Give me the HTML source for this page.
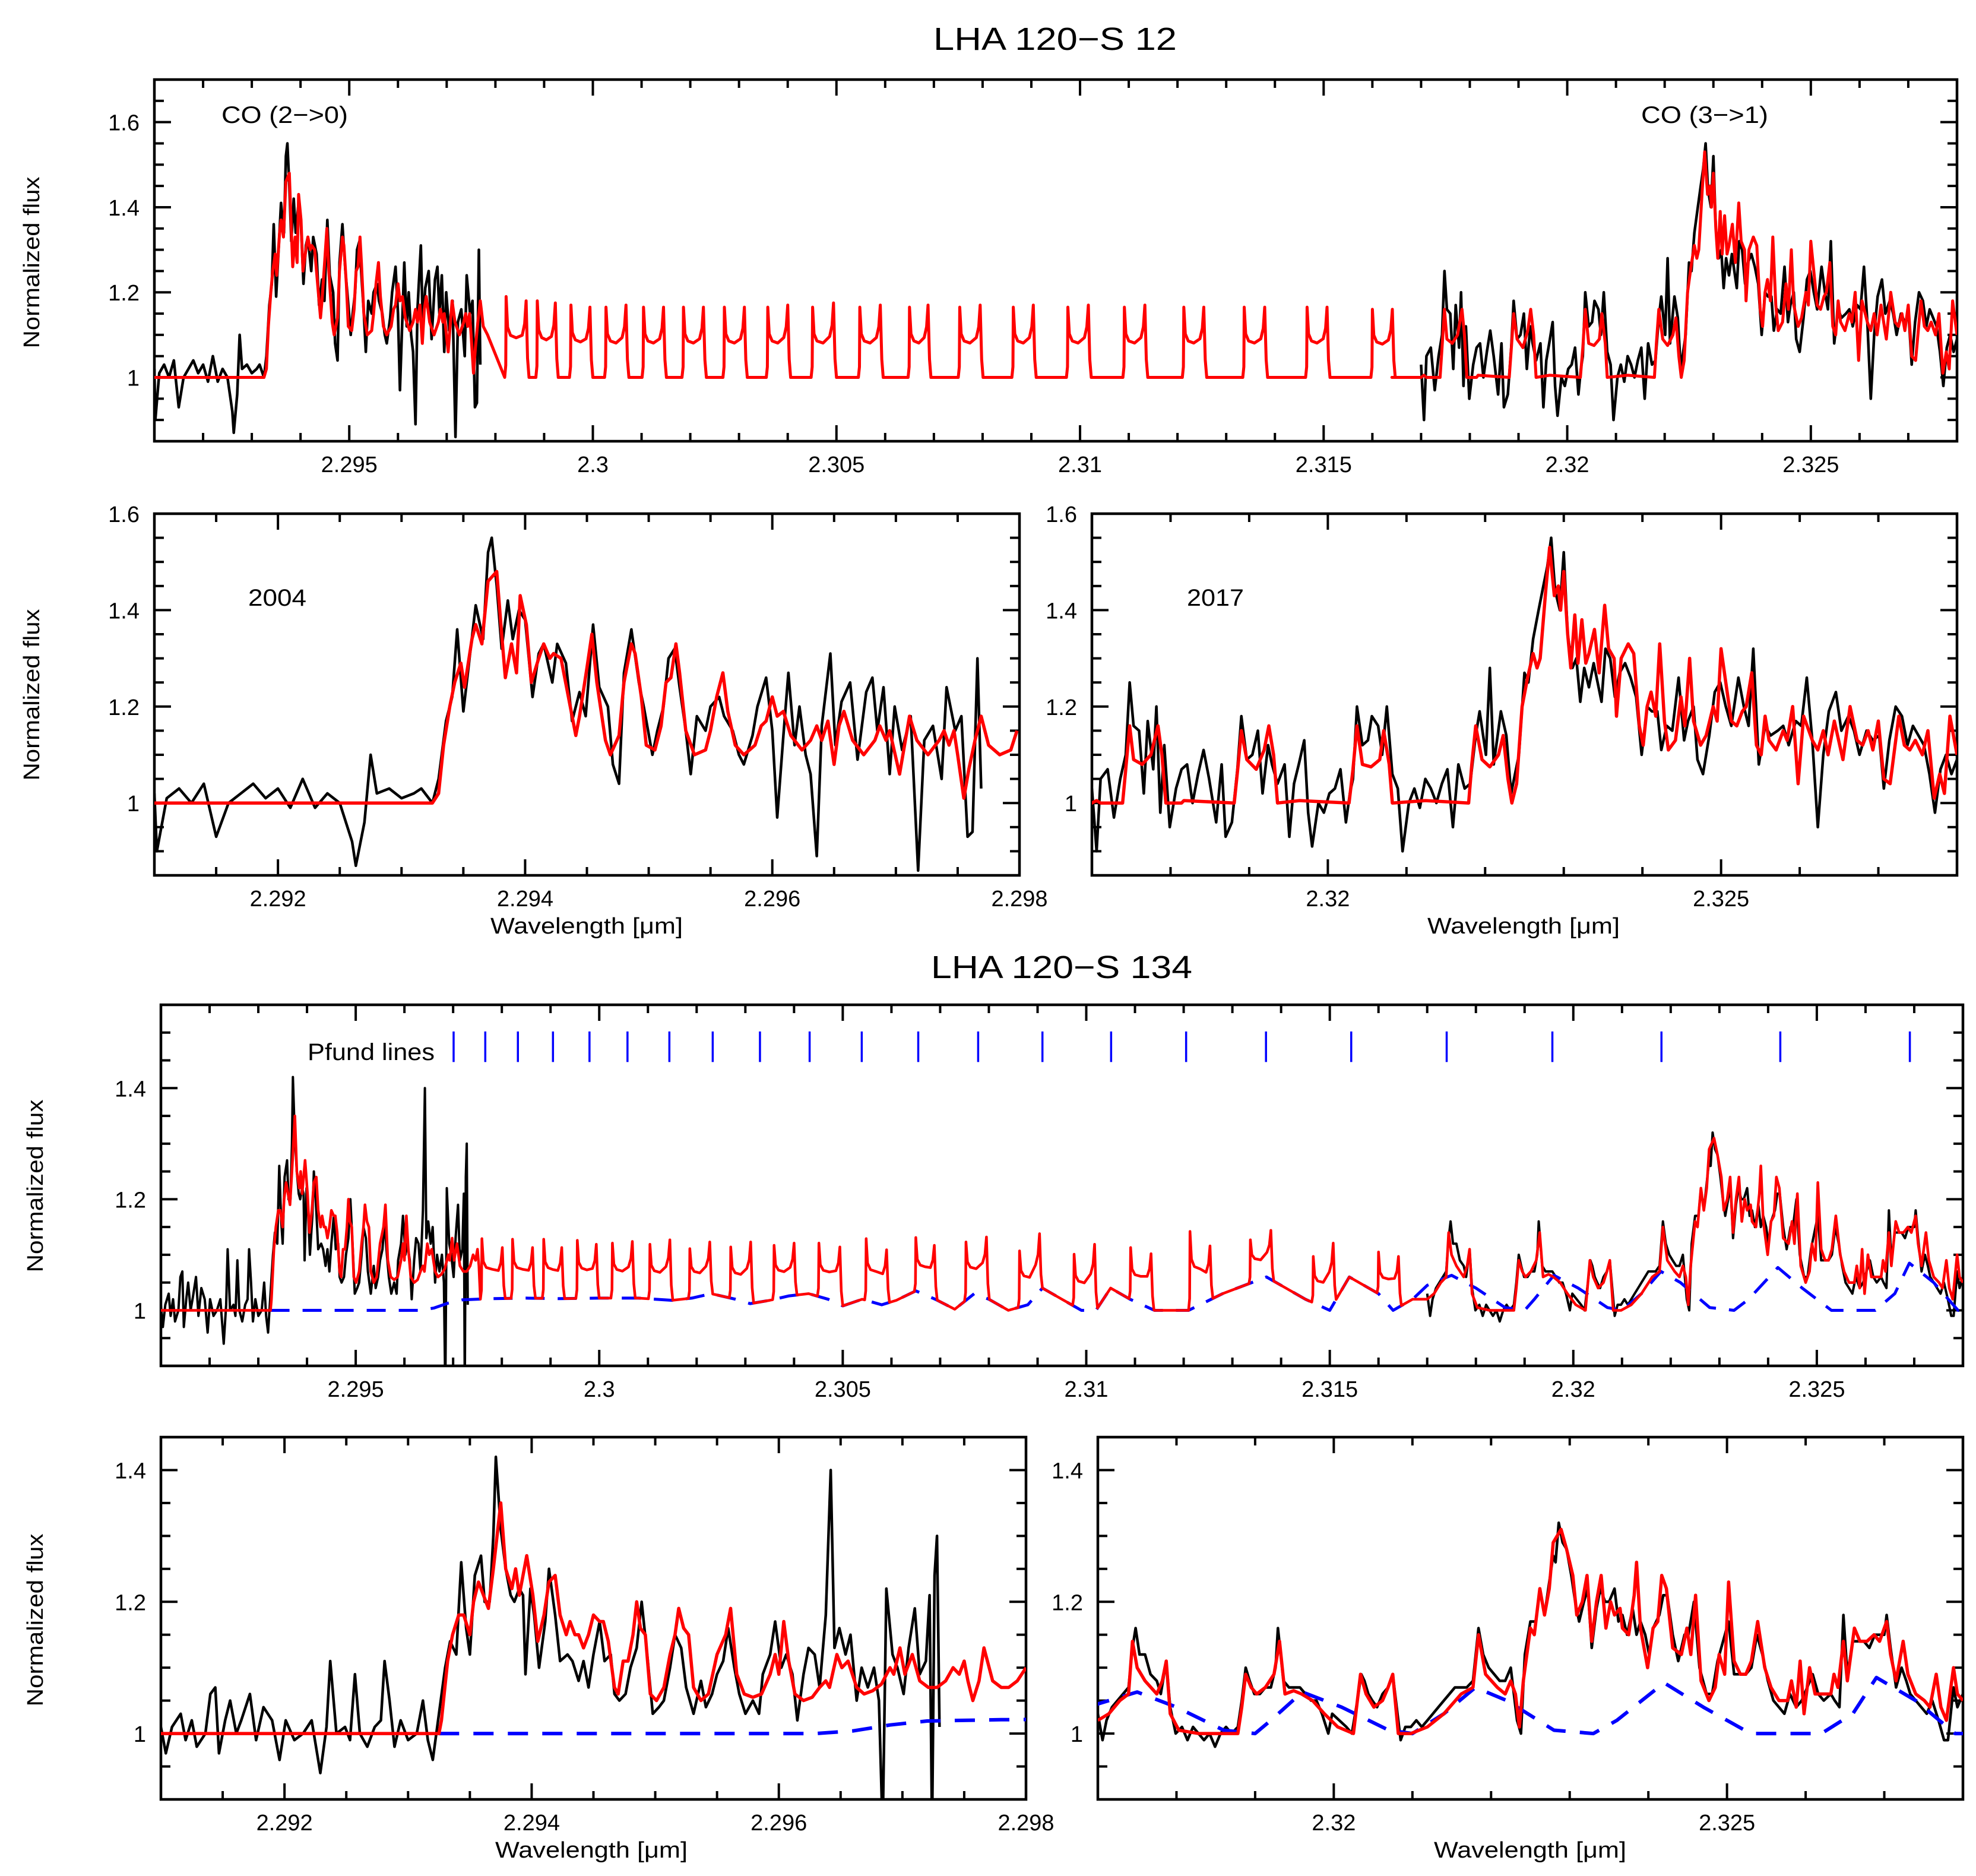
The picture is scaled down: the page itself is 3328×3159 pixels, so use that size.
<!DOCTYPE html>
<html><head><meta charset="utf-8"><title>LHA 120-S 12 / S 134 spectra</title>
<style>
html,body{margin:0;padding:0;background:#fff;}
svg{display:block;}
text{font-family:"Liberation Sans",Arial,sans-serif;fill:#000;}
</style></head>
<body>
<svg id="chart" xmlns="http://www.w3.org/2000/svg" width="3328" height="3159" viewBox="0 0 3328 3159">
<rect x="0" y="0" width="3328" height="3159" fill="#fff"/>
<text x="1777" y="84" font-size="54" text-anchor="middle" textLength="410" lengthAdjust="spacingAndGlyphs">LHA 120−S 12</text>
<text x="1788" y="1647" font-size="54" text-anchor="middle" textLength="440" lengthAdjust="spacingAndGlyphs">LHA 120−S 134</text>
<text x="373" y="207" font-size="40" textLength="213" lengthAdjust="spacingAndGlyphs">CO (2−&gt;0)</text>
<text x="2764" y="207" font-size="40" textLength="214" lengthAdjust="spacingAndGlyphs">CO (3−&gt;1)</text>
<text x="418" y="1020" font-size="40" textLength="98" lengthAdjust="spacingAndGlyphs">2004</text>
<text x="1999" y="1020" font-size="40" textLength="96" lengthAdjust="spacingAndGlyphs">2017</text>
<text x="518" y="1785" font-size="40" textLength="214" lengthAdjust="spacingAndGlyphs">Pfund lines</text>
<text x="988" y="1572" font-size="38" text-anchor="middle" textLength="324" lengthAdjust="spacingAndGlyphs">Wavelength [μm]</text>
<text x="2566" y="1572" font-size="38" text-anchor="middle" textLength="324" lengthAdjust="spacingAndGlyphs">Wavelength [μm]</text>
<text x="996" y="3128" font-size="38" text-anchor="middle" textLength="324" lengthAdjust="spacingAndGlyphs">Wavelength [μm]</text>
<text x="2577" y="3128" font-size="38" text-anchor="middle" textLength="324" lengthAdjust="spacingAndGlyphs">Wavelength [μm]</text>
<text transform="translate(66,442) rotate(-90)" font-size="38" text-anchor="middle" textLength="289" lengthAdjust="spacingAndGlyphs">Normalized flux</text>
<text transform="translate(66,1170) rotate(-90)" font-size="38" text-anchor="middle" textLength="289" lengthAdjust="spacingAndGlyphs">Normalized flux</text>
<text transform="translate(72,1997) rotate(-90)" font-size="38" text-anchor="middle" textLength="291" lengthAdjust="spacingAndGlyphs">Normalized flux</text>
<text transform="translate(72,2728) rotate(-90)" font-size="38" text-anchor="middle" textLength="291" lengthAdjust="spacingAndGlyphs">Normalized flux</text>
</svg>
<script>
// ---------------- DATA ----------------
const xTicksWide = [2.295, 2.3, 2.305, 2.31, 2.315, 2.32, 2.325];
const xTicksBlue = [2.292, 2.294, 2.296, 2.298];
const xTicksRed = [2.32, 2.325];
const yTicksS12 = [1, 1.2, 1.4, 1.6];
const yTicksS134 = [1, 1.2, 1.4];

const s12BlueObs = [[2.29100,1.02],[2.29102,0.90],[2.29110,1.01],[2.29120,1.03],[2.29130,1.00],[2.29140,1.04],[2.29150,0.93],[2.29160,1.00],[2.29170,1.02],[2.29180,1.04],[2.29190,1.01],[2.29200,1.03],[2.29210,0.99],[2.29220,1.05],[2.29230,0.99],[2.29240,1.02],[2.29250,1.00],[2.29260,0.92],[2.29263,0.87],[2.29270,0.96],[2.29275,1.10],[2.29280,1.02],[2.29290,1.03],[2.29300,1.01],[2.29310,1.02],[2.29316,1.03],[2.29325,1.00],[2.29330,1.05],[2.29336,1.17],[2.29341,1.22],[2.29345,1.36],[2.29350,1.19],[2.29355,1.30],[2.29360,1.41],[2.29366,1.34],[2.29370,1.52],[2.29373,1.55],[2.29377,1.45],[2.29381,1.32],[2.29386,1.42],[2.29390,1.34],[2.29395,1.40],[2.29400,1.38],[2.29406,1.22],[2.29411,1.31],[2.29415,1.33],[2.29422,1.25],[2.29426,1.33],[2.29433,1.29],[2.29438,1.17],[2.29444,1.23],[2.29449,1.18],[2.29455,1.37],[2.29460,1.24],[2.29467,1.20],[2.29471,1.08],[2.29476,1.04],[2.29480,1.27],[2.29486,1.36],[2.29492,1.25],[2.29496,1.20],[2.29503,1.10],[2.29507,1.15],[2.29512,1.20],[2.29516,1.30],[2.29521,1.32],[2.29525,1.24],[2.29530,1.15],[2.29534,1.06],[2.29539,1.18],[2.29546,1.15],[2.29550,1.20],[2.29557,1.22],[2.29561,1.18],[2.29568,1.15],[2.29573,1.10],[2.29577,1.08],[2.29584,1.14],[2.29588,1.20],[2.29595,1.26],[2.29600,1.15],[2.29604,0.97],[2.29609,1.14],[2.29613,1.27],[2.29618,1.12],[2.29622,1.20],[2.29627,1.10],[2.29631,1.06],[2.29636,0.89],[2.29640,1.16],[2.29647,1.31],[2.29651,1.12],[2.29656,1.21],[2.29663,1.25],[2.29669,1.09],[2.29676,1.23],[2.29681,1.26],[2.29685,1.15],[2.29690,1.24],[2.29695,1.06],[2.29699,1.20],[2.29705,1.11],[2.29712,1.18],[2.29718,0.86],[2.29723,1.13],[2.29730,1.16],[2.29737,1.05],[2.29741,1.24],[2.29748,1.15],[2.29753,1.18],[2.29758,0.93],[2.29762,0.94],[2.29766,1.30],[2.29769,1.03]];

const s12BlueModel = [[2.29100,1.0],[2.29325,1.0],[2.29330,1.02],[2.29334,1.12],[2.29339,1.20],[2.29343,1.25],[2.29348,1.29],[2.29351,1.24],[2.29357,1.34],[2.29360,1.37],[2.29365,1.33],[2.29370,1.46],[2.29377,1.48],[2.29381,1.35],[2.29384,1.26],[2.29389,1.33],[2.29393,1.27],[2.29396,1.43],[2.29401,1.37],[2.29405,1.25],[2.29411,1.30],[2.29415,1.33],[2.29420,1.30],[2.29423,1.31],[2.29429,1.30],[2.29435,1.22],[2.29441,1.14],[2.29444,1.18],[2.29450,1.28],[2.29454,1.35],[2.29458,1.25],[2.29465,1.13],[2.29469,1.10],[2.29476,1.14],[2.29480,1.25],[2.29486,1.33],[2.29489,1.31],[2.29494,1.22],[2.29498,1.12],[2.29505,1.11],[2.29510,1.16],[2.29514,1.25],[2.29518,1.26],[2.29522,1.33],[2.29525,1.27],[2.29530,1.15],[2.29537,1.10],[2.29546,1.11],[2.29550,1.15],[2.29555,1.22],[2.29560,1.27],[2.29564,1.19],[2.29570,1.12],[2.29577,1.10],[2.29586,1.12],[2.29591,1.16],[2.29595,1.17],[2.29600,1.22],[2.29604,1.18],[2.29609,1.19],[2.29615,1.14],[2.29624,1.11],[2.29631,1.13],[2.29636,1.16],[2.29640,1.13],[2.29645,1.17],[2.29650,1.08],[2.29654,1.16],[2.29658,1.19],[2.29665,1.13],[2.29674,1.10],[2.29683,1.13],[2.29687,1.16],[2.29692,1.13],[2.29695,1.15],[2.29703,1.06],[2.29711,1.18],[2.29717,1.13],[2.29726,1.10],[2.29735,1.13],[2.29739,1.15],[2.29743,1.12],[2.29747,1.15],[2.29750,1.10],[2.29755,1.01],[2.29759,1.07],[2.29764,1.13],[2.29769,1.18],[2.29775,1.12],[2.29784,1.10],[2.29793,1.11],[2.29798,1.15]];

const s12RedObs = [[2.31700,1.03],[2.31706,0.90],[2.31711,1.05],[2.31720,1.07],[2.31728,0.97],[2.31736,1.05],[2.31743,1.10],[2.31748,1.25],[2.31753,1.16],[2.31760,1.15],[2.31766,1.02],[2.31771,1.17],[2.31778,1.07],[2.31782,1.20],[2.31787,0.98],[2.31792,1.12],[2.31799,0.95],[2.31807,1.03],[2.31814,1.07],[2.31821,1.08],[2.31828,1.00],[2.31835,1.06],[2.31842,1.11],[2.31849,1.05],[2.31858,0.96],[2.31865,1.08],[2.31870,0.93],[2.31878,0.96],[2.31885,1.07],[2.31890,1.18],[2.31897,1.09],[2.31904,1.10],[2.31911,1.15],[2.31917,1.02],[2.31924,1.12],[2.31929,1.08],[2.31936,1.04],[2.31945,1.08],[2.31951,0.93],[2.31957,1.04],[2.31963,1.08],[2.31970,1.13],[2.31975,0.98],[2.31980,0.91],[2.31988,1.00],[2.31995,0.98],[2.32002,1.02],[2.32009,1.03],[2.32016,1.07],[2.32023,0.96],[2.32028,1.02],[2.32032,1.05],[2.32037,1.20],[2.32044,1.12],[2.32051,1.13],[2.32056,1.18],[2.32064,1.16],[2.32069,1.10],[2.32075,1.20],[2.32082,1.06],[2.32089,1.03],[2.32095,0.90],[2.32103,1.00],[2.32110,1.03],[2.32117,0.99],[2.32124,1.05],[2.32131,1.03],[2.32138,1.00],[2.32145,1.04],[2.32152,1.07],[2.32159,0.95],[2.32166,1.08],[2.32174,1.03],[2.32181,1.04],[2.32188,1.14],[2.32193,1.19],[2.32201,1.10],[2.32206,1.28],[2.32211,1.08],[2.32220,1.19],[2.32227,1.14],[2.32233,1.02],[2.32238,1.06],[2.32243,1.10],[2.32250,1.27],[2.32255,1.25],[2.32261,1.34],[2.32268,1.40],[2.32274,1.45],[2.32279,1.49],[2.32284,1.55],[2.32289,1.44],[2.32295,1.40],[2.32300,1.52],[2.32305,1.35],[2.32311,1.28],[2.32316,1.30],[2.32321,1.21],[2.32326,1.28],[2.32332,1.24],[2.32338,1.29],[2.32343,1.25],[2.32348,1.21],[2.32353,1.32],[2.32359,1.30],[2.32365,1.22],[2.32371,1.27],[2.32378,1.29],[2.32385,1.26],[2.32392,1.22],[2.32399,1.10],[2.32406,1.20],[2.32412,1.19],[2.32419,1.19],[2.32424,1.11],[2.32431,1.16],[2.32438,1.15],[2.32446,1.26],[2.32453,1.13],[2.32458,1.17],[2.32465,1.20],[2.32470,1.09],[2.32477,1.06],[2.32485,1.14],[2.32492,1.23],[2.32499,1.25],[2.32506,1.20],[2.32513,1.16],[2.32522,1.26],[2.32529,1.20],[2.32535,1.16],[2.32541,1.32],[2.32548,1.08],[2.32556,1.16],[2.32563,1.14],[2.32572,1.15],[2.32579,1.16],[2.32586,1.12],[2.32595,1.17],[2.32602,1.16],[2.32609,1.26],[2.32616,1.13],[2.32623,0.95],[2.32630,1.10],[2.32637,1.19],[2.32646,1.23],[2.32653,1.15],[2.32662,1.18],[2.32669,1.15],[2.32676,1.10],[2.32685,1.15],[2.32693,1.13],[2.32701,1.14],[2.32707,1.03],[2.32714,1.13],[2.32722,1.20],[2.32730,1.18],[2.32737,1.12],[2.32744,1.16],[2.32751,1.14],[2.32758,1.12],[2.32765,1.06],[2.32772,0.98],[2.32779,1.07],[2.32786,1.10],[2.32793,1.06],[2.32800,1.09]];

const s12RedModel = [[2.31640,1.0],[2.31700,1.00],[2.31706,1.005],[2.31711,1.0],[2.31739,1.0],[2.31743,1.07],[2.31748,1.16],[2.31753,1.09],[2.31764,1.08],[2.31775,1.10],[2.31784,1.16],[2.31789,1.10],[2.31794,1.0],[2.31814,1.0],[2.31817,1.005],[2.31881,1.0],[2.31886,1.08],[2.31890,1.15],[2.31897,1.09],[2.31909,1.07],[2.31919,1.11],[2.31925,1.16],[2.31931,1.10],[2.31936,1.0],[2.31964,1.005],[2.32027,1.0],[2.32032,1.07],[2.32037,1.16],[2.32044,1.08],[2.32055,1.075],[2.32066,1.09],[2.32071,1.15],[2.32078,1.08],[2.32082,1.0],[2.32124,1.005],[2.32179,1.0],[2.32183,1.08],[2.32188,1.16],[2.32196,1.09],[2.32206,1.075],[2.32217,1.10],[2.32223,1.14],[2.32229,1.05],[2.32234,1.0],[2.32240,1.04],[2.32247,1.20],[2.32254,1.26],[2.32261,1.31],[2.32266,1.28],[2.32270,1.30],[2.32277,1.44],[2.32282,1.53],[2.32288,1.43],[2.32293,1.45],[2.32296,1.40],[2.32300,1.48],[2.32305,1.35],[2.32309,1.28],[2.32314,1.39],[2.32318,1.29],[2.32323,1.38],[2.32328,1.29],[2.32332,1.31],[2.32339,1.36],[2.32345,1.27],[2.32352,1.41],[2.32357,1.32],[2.32364,1.30],[2.32367,1.18],[2.32373,1.30],[2.32382,1.33],[2.32389,1.31],[2.32396,1.16],[2.32401,1.12],[2.32406,1.20],[2.32411,1.23],[2.32417,1.18],[2.32422,1.33],[2.32428,1.17],[2.32433,1.11],[2.32442,1.13],[2.32449,1.22],[2.32454,1.16],[2.32460,1.30],[2.32465,1.17],[2.32474,1.12],[2.32481,1.14],[2.32490,1.20],[2.32495,1.17],[2.32500,1.32],[2.32506,1.25],[2.32513,1.17],[2.32520,1.16],[2.32527,1.19],[2.32532,1.20],[2.32539,1.27],[2.32545,1.12],[2.32551,1.10],[2.32556,1.18],[2.32561,1.13],[2.32570,1.11],[2.32579,1.15],[2.32584,1.13],[2.32591,1.20],[2.32598,1.04],[2.32605,1.18],[2.32616,1.13],[2.32623,1.11],[2.32630,1.15],[2.32636,1.10],[2.32644,1.17],[2.32655,1.09],[2.32664,1.20],[2.32673,1.13],[2.32680,1.12],[2.32687,1.15],[2.32693,1.11],[2.32700,1.17],[2.32707,1.05],[2.32715,1.04],[2.32726,1.18],[2.32733,1.12],[2.32740,1.11],[2.32747,1.13],[2.32756,1.10],[2.32763,1.15],[2.32771,1.01],[2.32778,1.06],[2.32784,1.02],[2.32791,1.18],[2.32800,1.10]];

const coHeadA = [2.29759,2.29822,2.29886,2.29955,2.30027,2.30104,2.30186,2.30270,2.30359,2.30451,2.30548,2.30650,2.30753,2.30863,2.30975,2.31091,2.31213,2.31337,2.31466,2.31600];
const coHeadB = [2.29801,2.29863,2.29923,2.29994,2.30068,2.30145,2.30227,2.30311,2.30400,2.30494,2.30590,2.30688,2.30795,2.30904,2.31017,2.31133,2.31254,2.31379,2.31507,2.31641];
const s12PeakA = [1.19,1.19,1.18,1.17,1.165,1.165,1.165,1.165,1.165,1.165,1.165,1.165,1.165,1.165,1.165,1.165,1.165,1.165,1.165,1.16];
const s12PeakB = [1.18,1.18,1.175,1.165,1.17,1.165,1.165,1.165,1.17,1.175,1.17,1.17,1.17,1.17,1.17,1.17,1.165,1.165,1.165,1.16];
const s134PeakA = [1.129,1.128,1.128,1.126,1.121,1.119,1.111,1.114,1.117,1.121,1.129,1.131,1.123,1.107,1.101,1.113,1.142,1.127,1.097,1.105];
const s134PeakB = [1.113,1.113,1.113,1.119,1.124,1.127,1.123,1.123,1.121,1.114,1.109,1.117,1.132,1.138,1.119,1.102,1.116,1.144,1.121,1.097];

const s134BlueObs = [[2.29100,1.01],[2.29104,0.97],[2.29109,1.01],[2.29116,1.03],[2.29120,0.99],[2.29125,1.02],[2.29129,0.98],[2.29136,1.00],[2.29140,1.06],[2.29144,1.07],[2.29147,0.97],[2.29152,1.02],[2.29156,1.05],[2.29161,1.00],[2.29165,1.02],[2.29172,1.06],[2.29177,0.99],[2.29183,1.04],[2.29190,1.02],[2.29196,0.96],[2.29201,1.02],[2.29208,0.99],[2.29215,1.00],[2.29222,1.02],[2.29229,0.94],[2.29234,1.01],[2.29237,1.11],[2.29242,1.00],[2.29249,1.01],[2.29253,0.99],[2.29257,1.09],[2.29261,1.00],[2.29267,0.98],[2.29273,1.01],[2.29278,1.02],[2.29281,1.11],[2.29285,1.05],[2.29289,0.98],[2.29294,1.02],[2.29300,0.99],[2.29307,1.00],[2.29312,1.05],[2.29316,0.99],[2.29320,0.96],[2.29325,1.03],[2.29330,1.10],[2.29334,1.14],[2.29339,1.12],[2.29343,1.26],[2.29347,1.16],[2.29350,1.12],[2.29354,1.24],[2.29359,1.27],[2.29362,1.20],[2.29366,1.20],[2.29369,1.30],[2.29371,1.42],[2.29375,1.31],[2.29379,1.25],[2.29383,1.21],[2.29386,1.20],[2.29390,1.22],[2.29393,1.21],[2.29395,1.09],[2.29399,1.22],[2.29402,1.18],[2.29406,1.10],[2.29411,1.17],[2.29414,1.25],[2.29419,1.18],[2.29423,1.11],[2.29429,1.12],[2.29433,1.11],[2.29438,1.08],[2.29442,1.11],[2.29446,1.07],[2.29450,1.12],[2.29455,1.17],[2.29459,1.11],[2.29464,1.12],[2.29467,1.06],[2.29471,1.05],[2.29476,1.06],[2.29480,1.10],[2.29485,1.13],[2.29489,1.20],[2.29494,1.11],[2.29498,1.03],[2.29503,1.04],[2.29507,1.05],[2.29512,1.10],[2.29516,1.15],[2.29521,1.13],[2.29525,1.07],[2.29531,1.03],[2.29537,1.08],[2.29541,1.04],[2.29546,1.06],[2.29550,1.09],[2.29555,1.11],[2.29559,1.16],[2.29564,1.10],[2.29568,1.06],[2.29573,1.03],[2.29579,1.05],[2.29584,1.03],[2.29587,1.09],[2.29593,1.12],[2.29597,1.17],[2.29602,1.10],[2.29606,1.12],[2.29611,1.09],[2.29615,1.02],[2.29620,1.09],[2.29624,1.13],[2.29629,1.12],[2.29633,1.07],[2.29638,1.18],[2.29642,1.40],[2.29645,1.13],[2.29649,1.16],[2.29654,1.12],[2.29658,1.15],[2.29663,1.05],[2.29667,1.10],[2.29672,1.07],[2.29677,1.10],[2.29681,1.05],[2.29684,0.85],[2.29687,1.22],[2.29692,1.12],[2.29696,1.10],[2.29701,1.06],[2.29705,1.13],[2.29710,1.19],[2.29714,1.09],[2.29719,1.11],[2.29722,1.21],[2.29724,0.85],[2.29726,1.24],[2.29728,1.30],[2.29730,1.01]];

const s134BlueModel = [[2.29100,1.0],[2.29325,1.0],[2.29327,1.02],[2.29332,1.11],[2.29336,1.15],[2.29341,1.18],[2.29345,1.18],[2.29350,1.15],[2.29353,1.20],[2.29357,1.23],[2.29361,1.21],[2.29365,1.19],[2.29369,1.25],[2.29375,1.35],[2.29379,1.25],[2.29384,1.22],[2.29387,1.25],[2.29390,1.21],[2.29396,1.27],[2.29401,1.21],[2.29405,1.14],[2.29410,1.18],[2.29414,1.23],[2.29419,1.24],[2.29423,1.18],[2.29428,1.15],[2.29431,1.17],[2.29435,1.15],[2.29438,1.15],[2.29442,1.13],[2.29446,1.15],[2.29450,1.18],[2.29455,1.17],[2.29458,1.17],[2.29462,1.14],[2.29467,1.07],[2.29470,1.06],[2.29474,1.11],[2.29478,1.11],[2.29482,1.15],[2.29485,1.20],[2.29488,1.16],[2.29492,1.15],[2.29496,1.06],[2.29501,1.05],[2.29507,1.07],[2.29512,1.12],[2.29516,1.15],[2.29519,1.19],[2.29523,1.16],[2.29527,1.15],[2.29531,1.07],[2.29537,1.05],[2.29543,1.06],[2.29550,1.12],[2.29557,1.15],[2.29561,1.19],[2.29566,1.09],[2.29572,1.06],[2.29579,1.055],[2.29586,1.06],[2.29593,1.09],[2.29597,1.12],[2.29600,1.09],[2.29604,1.17],[2.29608,1.11],[2.29613,1.06],[2.29620,1.05],[2.29627,1.055],[2.29633,1.07],[2.29638,1.08],[2.29641,1.07],[2.29647,1.12],[2.29651,1.10],[2.29656,1.11],[2.29663,1.07],[2.29669,1.06],[2.29676,1.065],[2.29683,1.075],[2.29690,1.10],[2.29693,1.09],[2.29698,1.13],[2.29702,1.09],[2.29708,1.12],[2.29714,1.08],[2.29721,1.07],[2.29728,1.07],[2.29735,1.08],[2.29741,1.10],[2.29746,1.09],[2.29750,1.11],[2.29753,1.08],[2.29757,1.05],[2.29762,1.08],[2.29766,1.13],[2.29773,1.08],[2.29780,1.07],[2.29786,1.07],[2.29793,1.08],[2.29800,1.10]];

const s134RedObs = [[2.31700,1.03],[2.31706,0.99],[2.31711,1.02],[2.31718,1.04],[2.31725,1.05],[2.31732,1.06],[2.31739,1.07],[2.31744,1.13],[2.31748,1.16],[2.31753,1.12],[2.31760,1.12],[2.31767,1.09],[2.31775,1.08],[2.31780,1.06],[2.31787,1.11],[2.31792,1.04],[2.31799,1.00],[2.31807,1.01],[2.31814,0.99],[2.31821,1.01],[2.31828,1.00],[2.31835,0.99],[2.31842,1.00],[2.31849,0.98],[2.31856,1.00],[2.31863,1.01],[2.31870,1.00],[2.31878,1.01],[2.31883,1.05],[2.31888,1.10],[2.31893,1.08],[2.31899,1.06],[2.31906,1.06],[2.31913,1.07],[2.31920,1.07],[2.31926,1.10],[2.31929,1.16],[2.31936,1.08],[2.31943,1.07],[2.31950,1.07],[2.31957,1.07],[2.31964,1.06],[2.31971,1.05],[2.31978,1.05],[2.31985,1.03],[2.31993,1.00],[2.31998,1.03],[2.32007,1.02],[2.32016,1.01],[2.32023,1.00],[2.32030,1.05],[2.32035,1.09],[2.32039,1.08],[2.32044,1.06],[2.32049,1.05],[2.32055,1.04],[2.32062,1.06],[2.32069,1.07],[2.32075,1.09],[2.32080,1.04],[2.32085,0.99],[2.32091,1.01],[2.32098,1.01],[2.32105,1.02],[2.32112,1.01],[2.32119,1.02],[2.32126,1.03],[2.32133,1.04],[2.32140,1.05],[2.32147,1.06],[2.32154,1.07],[2.32162,1.07],[2.32169,1.07],[2.32177,1.08],[2.32184,1.16],[2.32190,1.12],[2.32197,1.10],[2.32204,1.09],[2.32211,1.08],[2.32218,1.08],[2.32225,1.10],[2.32233,1.02],[2.32238,1.00],[2.32243,1.12],[2.32250,1.17],[2.32257,1.17],[2.32262,1.22],[2.32268,1.18],[2.32274,1.23],[2.32279,1.27],[2.32282,1.26],[2.32286,1.32],[2.32291,1.29],[2.32296,1.28],[2.32302,1.24],[2.32307,1.20],[2.32312,1.17],[2.32318,1.20],[2.32323,1.22],[2.32328,1.13],[2.32334,1.19],[2.32339,1.22],[2.32345,1.20],[2.32350,1.20],[2.32357,1.22],[2.32362,1.17],[2.32367,1.18],[2.32373,1.15],[2.32380,1.19],[2.32385,1.15],[2.32390,1.17],[2.32396,1.15],[2.32401,1.12],[2.32406,1.16],[2.32414,1.18],[2.32419,1.21],[2.32424,1.21],[2.32431,1.15],[2.32438,1.11],[2.32446,1.15],[2.32451,1.15],[2.32458,1.20],[2.32465,1.10],[2.32474,1.06],[2.32481,1.06],[2.32488,1.11],[2.32495,1.14],[2.32502,1.17],[2.32509,1.09],[2.32517,1.09],[2.32524,1.09],[2.32531,1.10],[2.32538,1.15],[2.32545,1.12],[2.32552,1.08],[2.32559,1.05],[2.32566,1.04],[2.32573,1.03],[2.32580,1.06],[2.32588,1.04],[2.32595,1.05],[2.32602,1.07],[2.32609,1.09],[2.32616,1.06],[2.32623,1.05],[2.32632,1.06],[2.32637,1.05],[2.32643,1.04],[2.32648,1.18],[2.32653,1.09],[2.32660,1.14],[2.32667,1.14],[2.32674,1.14],[2.32681,1.13],[2.32688,1.15],[2.32694,1.15],[2.32700,1.15],[2.32703,1.18],[2.32708,1.13],[2.32715,1.07],[2.32722,1.10],[2.32728,1.08],[2.32733,1.06],[2.32740,1.05],[2.32747,1.04],[2.32754,1.03],[2.32761,1.05],[2.32769,1.02],[2.32776,0.99],[2.32781,0.99],[2.32788,1.07],[2.32793,1.04],[2.32800,1.06]];

const s134RedModel = [[2.31700,1.02],[2.31714,1.03],[2.31728,1.05],[2.31739,1.06],[2.31744,1.14],[2.31750,1.10],[2.31760,1.08],[2.31775,1.06],[2.31782,1.08],[2.31787,1.11],[2.31792,1.03],[2.31803,1.005],[2.31828,1.0],[2.31878,1.0],[2.31883,1.04],[2.31888,1.09],[2.31895,1.07],[2.31902,1.06],[2.31913,1.07],[2.31924,1.09],[2.31931,1.14],[2.31938,1.06],[2.31949,1.065],[2.31959,1.06],[2.31973,1.05],[2.31988,1.03],[2.32005,1.01],[2.32025,1.0],[2.32030,1.05],[2.32034,1.09],[2.32041,1.06],[2.32051,1.04],[2.32062,1.05],[2.32069,1.07],[2.32075,1.09],[2.32082,1.0],[2.32098,1.0],[2.32119,1.01],[2.32140,1.03],[2.32162,1.06],[2.32177,1.07],[2.32184,1.15],[2.32193,1.09],[2.32208,1.07],[2.32218,1.06],[2.32225,1.08],[2.32231,1.06],[2.32236,1.01],[2.32241,1.08],[2.32250,1.16],[2.32255,1.15],[2.32262,1.22],[2.32268,1.18],[2.32274,1.22],[2.32279,1.29],[2.32289,1.31],[2.32296,1.28],[2.32304,1.24],[2.32309,1.18],[2.32316,1.20],[2.32322,1.24],[2.32328,1.14],[2.32334,1.20],[2.32340,1.24],[2.32346,1.16],[2.32352,1.20],[2.32357,1.18],[2.32364,1.19],[2.32367,1.16],[2.32375,1.15],[2.32382,1.21],[2.32385,1.26],[2.32390,1.16],[2.32396,1.12],[2.32399,1.10],[2.32406,1.16],[2.32412,1.17],[2.32417,1.24],[2.32423,1.22],[2.32431,1.13],[2.32442,1.12],[2.32449,1.16],[2.32454,1.12],[2.32460,1.21],[2.32467,1.08],[2.32477,1.05],[2.32485,1.07],[2.32490,1.12],[2.32497,1.09],[2.32502,1.23],[2.32509,1.11],[2.32517,1.09],[2.32524,1.09],[2.32531,1.11],[2.32539,1.17],[2.32548,1.10],[2.32556,1.07],[2.32566,1.05],[2.32577,1.05],[2.32582,1.08],[2.32588,1.04],[2.32593,1.11],[2.32598,1.03],[2.32605,1.10],[2.32612,1.06],[2.32623,1.06],[2.32632,1.06],[2.32636,1.09],[2.32641,1.07],[2.32648,1.14],[2.32653,1.08],[2.32662,1.16],[2.32669,1.14],[2.32678,1.14],[2.32687,1.15],[2.32694,1.14],[2.32703,1.17],[2.32708,1.12],[2.32715,1.08],[2.32724,1.14],[2.32730,1.09],[2.32740,1.06],[2.32751,1.05],[2.32758,1.04],[2.32766,1.09],[2.32772,1.04],[2.32779,1.02],[2.32788,1.10],[2.32793,1.06],[2.32800,1.05]];

const s134Pfund = [[2.29325,1.0],[2.2963,1.0],[2.2966,1.004],[2.2969,1.013],[2.2972,1.019],[2.2978,1.021],[2.2985,1.022],[2.2992,1.021],[2.3000,1.022],[2.3008,1.022],[2.3015,1.018],[2.3019,1.022],[2.3023,1.03],[2.3028,1.02],[2.3031,1.012],[2.3035,1.018],[2.3039,1.026],[2.3043,1.03],[2.3047,1.02],[2.3050,1.008],[2.3054,1.02],[2.3058,1.01],[2.3061,1.018],[2.3065,1.035],[2.3069,1.02],[2.3073,1.002],[2.3077,1.03],[2.3080,1.02],[2.3084,1.0],[2.3088,1.01],[2.3091,1.04],[2.3095,1.02],[2.3099,1.0],[2.3102,1.0],[2.3105,1.04],[2.3109,1.02],[2.3114,1.0],[2.3121,1.0],[2.3128,1.03],[2.3137,1.06],[2.3145,1.02],[2.3150,1.0],[2.3154,1.06],[2.3160,1.03],[2.3163,1.0],[2.3167,1.02],[2.3170,1.045],[2.3175,1.063],[2.3180,1.04],[2.3186,1.005],[2.3190,1.0],[2.3192,1.02],[2.3196,1.063],[2.3201,1.04],[2.3207,1.005],[2.3210,1.0],[2.3214,1.03],[2.3218,1.07],[2.3222,1.05],[2.3228,1.005],[2.3233,1.0],[2.3236,1.02],[2.3242,1.077],[2.3247,1.04],[2.3253,1.0],[2.3262,1.0],[2.3266,1.03],[2.3269,1.085],[2.3274,1.05],[2.3279,1.0],[2.3280,1.0]];

const pfundLines = [2.29701,2.29766,2.29833,2.29905,2.29980,2.30058,2.30144,2.30233,2.30330,2.30432,2.30539,2.30655,2.30778,2.30910,2.31051,2.31205,2.31369,2.31544,2.31740,2.31957,2.32181,2.32425,2.32691];
const pfundTickLow = 1.447;
const pfundTickHigh = 1.502;

// ---------------- RENDERING ----------------
const NS = "http://www.w3.org/2000/svg";
const svg = document.getElementById('chart');
function mk(tag, attrs, parent) {
  const e = document.createElementNS(NS, tag);
  for (const k in attrs) e.setAttribute(k, attrs[k]);
  (parent || svg).appendChild(e);
  return e;
}
const panels = {
  a: {L:260, R:3296, T:134, B:743, x0:2.291, x1:2.328, y0:0.85, y1:1.70, xMaj:0.005, xMin:0.001, xt:xTicksWide, yt:yTicksS12},
  b: {L:260, R:1717, T:865, B:1474, x0:2.291, x1:2.298, y0:0.85, y1:1.60, xMaj:0.002, xMin:0.0005, xt:xTicksBlue, yt:yTicksS12},
  c: {L:1839, R:3296, T:865, B:1474, x0:2.317, x1:2.328, y0:0.85, y1:1.60, xMaj:0.005, xMin:0.001, xt:xTicksRed, yt:yTicksS12},
  d: {L:271, R:3306, T:1692, B:2300, x0:2.291, x1:2.328, y0:0.90, y1:1.55, xMaj:0.005, xMin:0.001, xt:xTicksWide, yt:yTicksS134},
  e: {L:271, R:1728, T:2420, B:3030, x0:2.291, x1:2.298, y0:0.90, y1:1.45, xMaj:0.002, xMin:0.0005, xt:xTicksBlue, yt:yTicksS134},
  f: {L:1849, R:3306, T:2420, B:3030, x0:2.317, x1:2.328, y0:0.90, y1:1.45, xMaj:0.005, xMin:0.001, xt:xTicksRed, yt:yTicksS134}
};
function sx(p, v) { return p.L + (v - p.x0) / (p.x1 - p.x0) * (p.R - p.L); }
function sy(p, v) { return p.B - (v - p.y0) / (p.y1 - p.y0) * (p.B - p.T); }
function interp(arr, x) {
  if (x <= arr[0][0]) return arr[0][1];
  for (let i = 1; i < arr.length; i++) {
    if (x <= arr[i][0]) { const t = (x - arr[i-1][0]) / (arr[i][0] - arr[i-1][0]); return arr[i-1][1] + t * (arr[i][1] - arr[i-1][1]); }
  }
  return arr[arr.length - 1][1];
}
function bandHeads(peaksA, peaksB, baseFn, minA, basePts) {
  const pts = [];
  const spans = [];
  for (let i = 0; i < coHeadA.length; i++) {
    const a = coHeadA[i], b = coHeadB[i];
    if (a < minA) continue;
    const pa = peaksA[i], pb = peaksB[i];
    const Ba = baseFn(a - 0.00003), Bb = baseFn(b + 0.00006), Bm = baseFn((a + b) / 2);
    pts.push([a - 0.00003, Ba], [a - 0.000008, Ba + 0.15 * (pa - Ba)], [a, pa], [a + 0.00003, Bm + 0.62 * (pa - Bm)],
      [a + 0.00009, Bm + 0.52 * (pa - Bm)], [(a + b) / 2, Bm + 0.49 * (pa - Bm)], [b - 0.00008, Bm + 0.55 * (pb - Bm)],
      [b - 0.00003, Bm + 0.7 * (pb - Bm)], [b, pb], [b + 0.00003, Bb + 0.25 * (pb - Bb)], [b + 0.00006, Bb]);
    spans.push([a - 0.00003, b + 0.00006]);
  }
  basePts.forEach(q => { if (!spans.some(s => q[0] >= s[0] && q[0] <= s[1])) pts.push(q); });
  pts.sort((u, v) => u[0] - v[0]);
  return pts;
}

let clipId = 0;
function drawSeries(p, data, color, width, dash, name) {
  const pts = data.map(q => sx(p, q[0]).toFixed(1) + ',' + sy(p, q[1]).toFixed(1)).join(' ');
  const line = mk('polyline', {points: pts, fill: 'none', stroke: color, 'stroke-width': width, 'stroke-linejoin': 'round', 'clip-path': 'url(#' + p.clip + ')'});
  if (dash) line.setAttribute('stroke-dasharray', dash);
  
  
  return line;
}
function drawAxes(p, key) {
  const id = 'clip' + (clipId++);
  const cp = mk('clipPath', {id: id});
  mk('rect', {x: p.L, y: p.T, width: p.R - p.L, height: p.B - p.T}, cp);
  p.clip = id;
  const g = mk('g', {stroke: '#000', 'stroke-width': 4, fill: 'none'});
  
  
  const k0 = Math.ceil(p.x0 / p.xMin - 1e-6), k1 = Math.floor(p.x1 / p.xMin + 1e-6);
  for (let k = k0; k <= k1; k++) {
    const v = k * p.xMin; const r = v / p.xMaj; const maj = Math.abs(r - Math.round(r)) < 1e-4;
    const X = sx(p, v), len = maj ? 27 : 14;
    mk('line', {x1: X, y1: p.B, x2: X, y2: p.B - len}, g);
    mk('line', {x1: X, y1: p.T, x2: X, y2: p.T + len}, g);
  }
  const j0 = Math.ceil(p.y0 / 0.05 - 1e-6), j1 = Math.floor(p.y1 / 0.05 + 1e-6);
  for (let j = j0; j <= j1; j++) {
    const v = j * 0.05; const maj = (Math.round(v * 100) % 20) === 0;
    const Y = sy(p, v), len = maj ? 28 : 16;
    mk('line', {x1: p.L, y1: Y, x2: p.L + len, y2: Y}, g);
    mk('line', {x1: p.R, y1: Y, x2: p.R - len, y2: Y}, g);
  }
  const frame = mk('rect', {x: p.L, y: p.T, width: p.R - p.L, height: p.B - p.T, fill: 'none', stroke: '#000', 'stroke-width': 4.5});
  
  
  p.xt.forEach(v => {
    const t = mk('text', {x: sx(p, v), y: p.B + 52, 'font-size': 38, 'text-anchor': 'middle'});
    t.textContent = String(v);
    
    
  });
  p.yt.forEach(v => {
    const t = mk('text', {x: p.L - 25, y: sy(p, v) + 14, 'font-size': 38, 'text-anchor': 'end'});
    t.textContent = String(v);
    
    
  });
}
Object.keys(panels).forEach(k => drawAxes(panels[k], k));

const s12FullModel = s12BlueModel.filter(q => q[0] < 2.2979)
  .concat(bandHeads(s12PeakA, s12PeakB, () => 1.0, 2.2980, []))
  .concat(s12RedModel);
const s134MidBase = s134Pfund.filter(q => q[0] > 2.29755 && q[0] < 2.3170);
const s134FullModel = s134BlueModel.filter(q => q[0] < 2.29755)
  .concat(bandHeads(s134PeakA, s134PeakB, x => interp(s134Pfund, x), 2.2975, s134MidBase))
  .concat(s134RedModel);

const P = panels;
drawSeries(P.a, s12BlueObs, '#000', 4.5, null, 'observed-s12-blue');
drawSeries(P.a, s12RedObs, '#000', 4.5, null, 'observed-s12-red');
drawSeries(P.a, s12FullModel, '#f00', 5, null, 'model-s12');
drawSeries(P.b, s12BlueObs, '#000', 4.5, null, 'observed-2004');
drawSeries(P.b, s12BlueModel, '#f00', 5.5, null, 'model-2004');
drawSeries(P.c, s12RedObs, '#000', 4.5, null, 'observed-2017');
drawSeries(P.c, s12RedModel, '#f00', 5.5, null, 'model-2017');

drawSeries(P.d, s134BlueObs, '#000', 4, null, 'observed-s134-blue');
drawSeries(P.d, s134RedObs, '#000', 4, null, 'observed-s134-red');
drawSeries(P.d, s134Pfund, '#00f', 5, '32,22', 'pfund-component-s134');
drawSeries(P.d, s134FullModel, '#f00', 4.5, null, 'model-s134');
drawSeries(P.e, s134BlueObs, '#000', 4.5, null, 'observed-s134-blue-zoom');
drawSeries(P.e, s134Pfund, '#00f', 6, '34,24', 'pfund-component-blue-zoom');
drawSeries(P.e, s134BlueModel, '#f00', 5.5, null, 'model-s134-blue-zoom');
drawSeries(P.f, s134RedObs, '#000', 4.5, null, 'observed-s134-red-zoom');
drawSeries(P.f, s134Pfund, '#00f', 6, '34,24', 'pfund-component-red-zoom');
drawSeries(P.f, s134RedModel, '#f00', 5.5, null, 'model-s134-red-zoom');

pfundLines.forEach(w => {
  const t = mk('line', {x1: sx(P.d, w), x2: sx(P.d, w), y1: sy(P.d, pfundTickLow), y2: sy(P.d, pfundTickHigh), stroke: '#00f', 'stroke-width': 3.5});
  
  
});
</script>
</body></html>
